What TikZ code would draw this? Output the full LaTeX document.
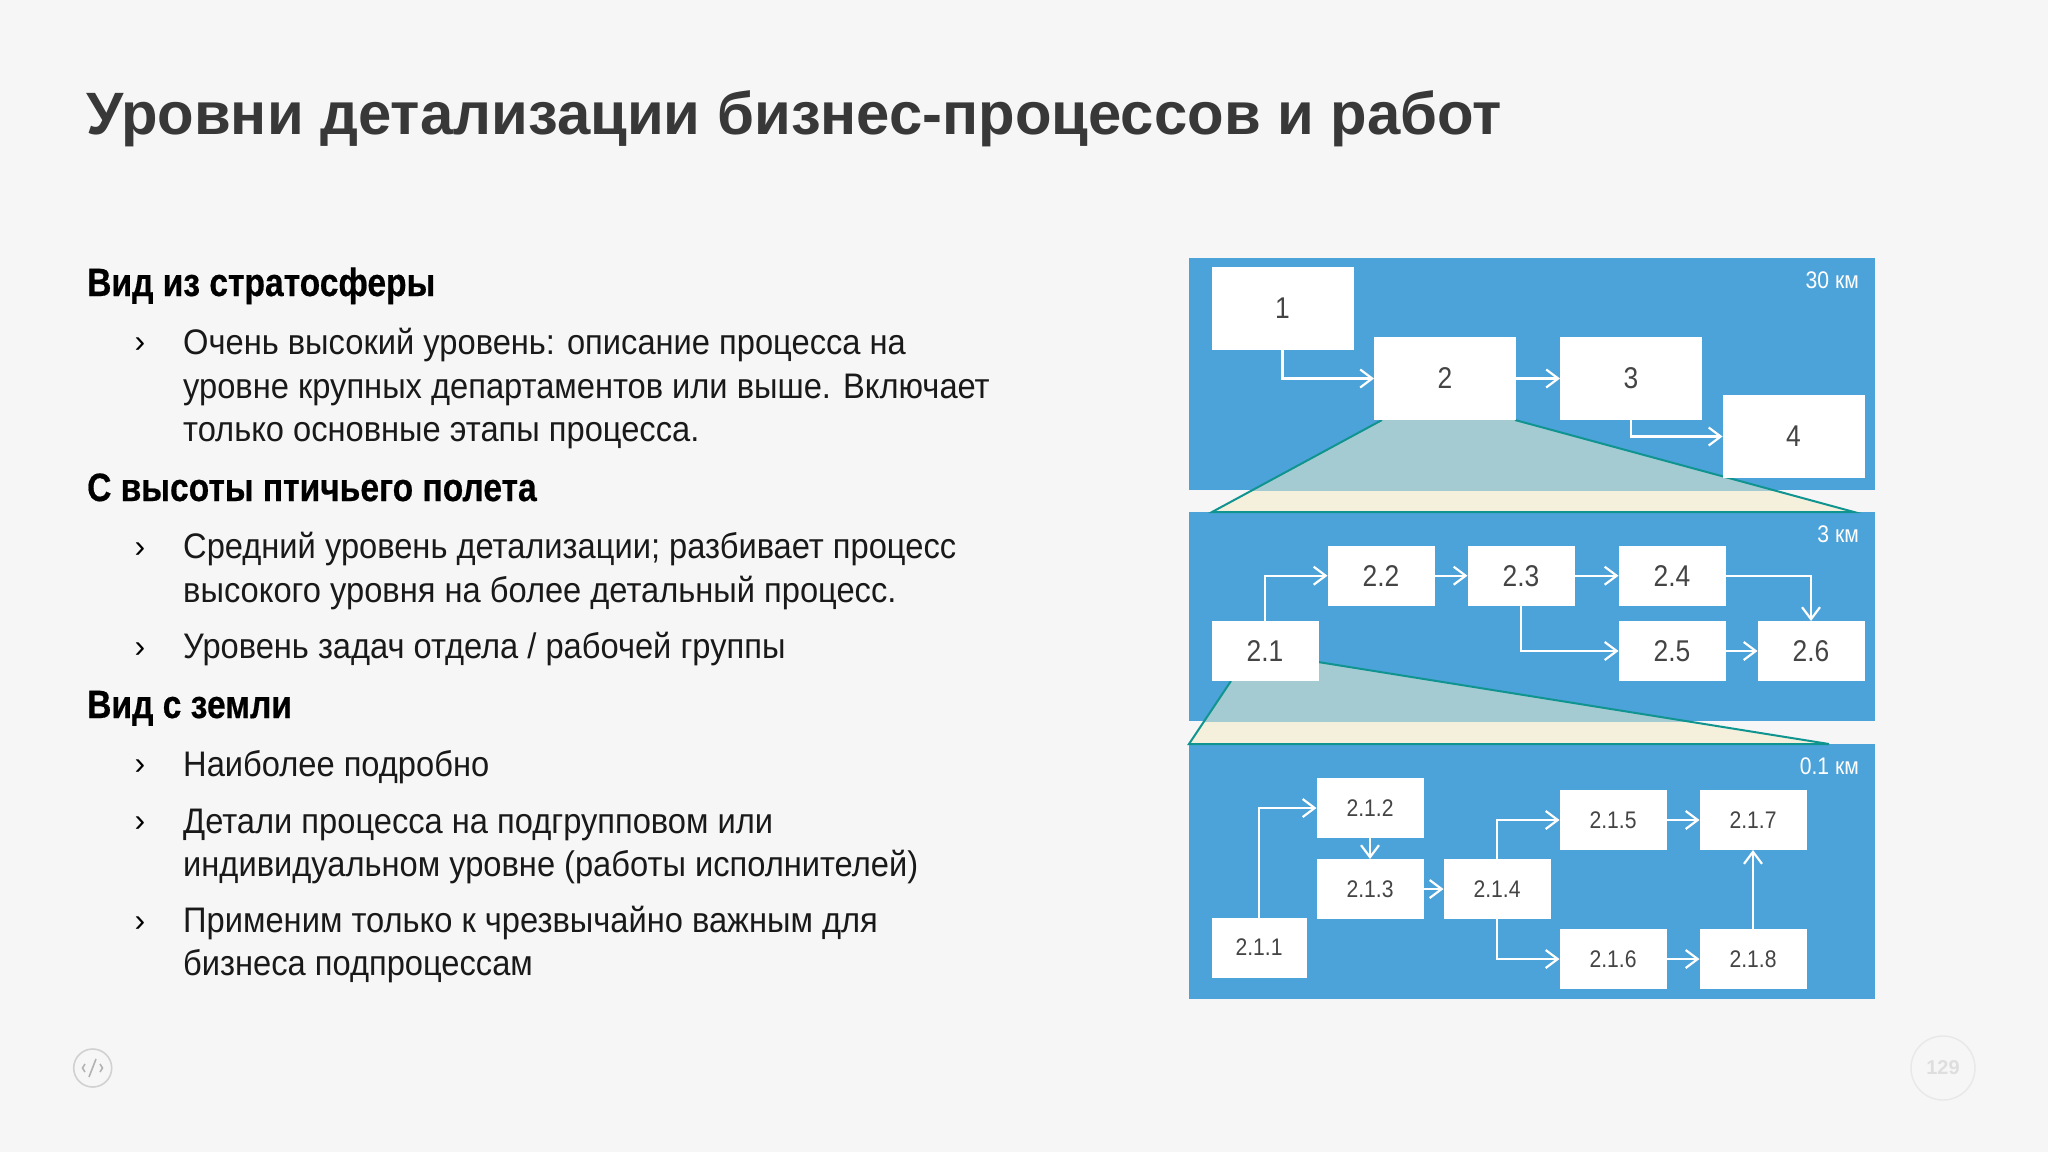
\documentclass[tikz,border=0pt]{standalone}
\usepackage{fontspec}
\setmainfont{Liberation Sans}
\newfontfamily\narrowfont[FakeStretch=0.92]{Liberation Sans}
\newfontfamily\headfont[FakeStretch=0.85,BoldFeatures={FakeBold=0.5}]{Liberation Sans}
\newfontfamily\thinfont[FakeStretch=0.88]{Liberation Sans}
\usetikzlibrary{arrows.meta}
\usetikzlibrary{positioning}
\definecolor{slidebg}{HTML}{F6F6F6}
\definecolor{panelblue}{HTML}{4CA3D9}
\definecolor{zoomteal}{HTML}{0F9490}
\definecolor{zoomcream}{HTML}{F5F0DC}
\definecolor{zoomglass}{HTML}{A5CBD2}
\definecolor{boxtext}{HTML}{444444}
\tikzset{
	>={Straight Barb[length=12pt,width=18pt,line width=2.2pt]},
	panel/.style={fill=panelblue},
	bigbox/.style={fill=white, inner sep=0, outer sep=0, minimum width=142pt, minimum height=83pt, text=boxtext, font=\thinfont\fontsize{30}{30}\selectfont},
	midbox/.style={fill=white, inner sep=0, outer sep=0, minimum width=107pt, minimum height=60pt, text=boxtext, font=\thinfont\fontsize{30}{30}\selectfont},
	smallbox/.style={midbox, font=\thinfont\fontsize{24}{24}\selectfont},
	flow/.style={draw=white, line width=2.2pt, ->},
	zoomedge/.style={draw=zoomteal, line width=2pt},
	kmlabel/.style={anchor=base east, inner sep=0, text=white, font=\thinfont\fontsize{24}{24}\selectfont},
	heading/.style={anchor=base west, inner sep=0, text=black, font=\headfont\bfseries\fontsize{39.5}{39.5}\selectfont},
	item/.style={anchor=base west, inner sep=0, align=left, text=black!90, font=\narrowfont\fontsize{35.5}{43.6}\selectfont},
	chevron/.style={anchor=base, inner sep=0, text=black, font=\fontsize{32}{32}\selectfont},
}
\begin{document}
\begin{tikzpicture}[x=1pt, y=-1pt]
	\useasboundingbox[fill=slidebg] (0,0) rectangle (2048,1152);
	\node[anchor=base west, inner sep=0, text=black!78, font=\bfseries\fontsize{59.8}{59.8}\selectfont] (title) at (86,134) {Уровни детализации бизнес-процессов и работ};
	% left column
	\node[heading] (headone) at (87,296) {Вид из стратосферы};
	\node[chevron] (markone) at (140,352) {›};
	\node[item] (itemone) at (183,441.7) {Очень высокий уровень: описание процесса на\\уровне крупных департаментов или выше. Включает\\только основные этапы процесса.};
	\node[heading] (headtwo) at (87,501) {С высоты птичьего полета};
	\node[chevron] (marktwo) at (140,557) {›};
	\node[item] (itemtwo) at (183,602.5) {Средний уровень детализации; разбивает процесс\\высокого уровня на более детальный процесс.};
	\node[chevron] (markthree) at (140,657) {›};
	\node[item] (itemthree) at (183,658.5) {Уровень задач отдела / рабочей группы};
	\node[heading] (headthree) at (87,718) {Вид с земли};
	\node[chevron] (markfour) at (140,774) {›};
	\node[item] (itemfour) at (183,776) {Наиболее подробно};
	\node[chevron] (markfive) at (140,831) {›};
	\node[item] (itemfive) at (183,876.6) {Детали процесса на подгрупповом или\\индивидуальном уровне (работы исполнителей)};
	\node[chevron] (marksix) at (140,931) {›};
	\node[item] (itemsix) at (183,975.9) {Применим только к чрезвычайно важным для\\бизнеса подпроцессам};
	% panels
	\fill[panel] (1189,258) rectangle (1875,490);
	\fill[panel] (1189,512) rectangle (1875,721);
	\fill[panel] (1189,744) rectangle (1875,999);
	% first zoom
	\fill[zoomcream] (1382,420)--(1515,420)--(1854,512)--(1212,512)--cycle;
	\begin{scope}
		\clip (1189,258) rectangle (1875,490);
		\fill[zoomglass] (1382,420)--(1515,420)--(1854,512)--(1212,512)--cycle;
	\end{scope}
	\draw[zoomedge] (1382,420)--(1212,512)--(1854,512)--(1515,420);
	% second zoom
	\fill[zoomcream] (1231,681)--(1318,662)--(1829,744)--(1189,744)--cycle;
	\begin{scope}
		\clip (1189,512) rectangle (1875,721);
		\fill[zoomglass] (1231,681)--(1318,662)--(1829,744)--(1189,744)--cycle;
	\end{scope}
	\draw[zoomedge] (1231,681)--(1189,744)--(1829,744)--(1318,662);
	% top level
	\node[kmlabel] (kmone) at (1859,288) {30 км};
	\node[bigbox] (one) at (1282.5,308.5) {1};
	\node[bigbox] (two) at (1445,378.5) {2};
	\node[bigbox] (three) at (1631,378.5) {3};
	\node[bigbox] (four) at (1793.5,436.5) {4};
	\draw[flow] (one.south) |- (two.west);
	\draw[flow] (two.east) -- (three.west);
	\draw[flow] (three.south) |- (four.west);
	% middle level
	\node[kmlabel] (kmtwo) at (1859,542) {3 км};
	\node[midbox] (twoone) at (1265,651) {2.1};
	\node[midbox] (twotwo) at (1381,575.7) {2.2};
	\node[midbox] (twothree) at (1521,575.7) {2.3};
	\node[midbox] (twofour) at (1672,575.7) {2.4};
	\node[midbox] (twofive) at (1672,651) {2.5};
	\node[midbox] (twosix) at (1811,651) {2.6};
	\draw[flow] (twoone.north) |- (twotwo.west);
	\draw[flow] (twotwo.east) -- (twothree.west);
	\draw[flow] (twothree.east) -- (twofour.west);
	\draw[flow] (twofour.east) -| (twosix.north);
	\draw[flow] (twothree.south) |- (twofive.west);
	\draw[flow] (twofive.east) -- (twosix.west);
	% bottom level
	\node[kmlabel] (kmthree) at (1859,774) {0.1 км};
	\node[smallbox, minimum width=95pt] (subone) at (1259,947.5) {2.1.1};
	\node[smallbox] (subtwo) at (1370,808) {2.1.2};
	\node[smallbox] (subthree) at (1370,889) {2.1.3};
	\node[smallbox] (subfour) at (1497,889) {2.1.4};
	\node[smallbox] (subfive) at (1613,820) {2.1.5};
	\node[smallbox] (subsix) at (1613,959) {2.1.6};
	\node[smallbox] (subseven) at (1753,820) {2.1.7};
	\node[smallbox] (subeight) at (1753,959) {2.1.8};
	\draw[flow] (subone.north) |- (subtwo.west);
	\draw[flow] (subtwo.south) -- (subthree.north);
	\draw[flow] (subthree.east) -- (subfour.west);
	\draw[flow] (subfour.north) |- (subfive.west);
	\draw[flow] (subfour.south) |- (subsix.west);
	\draw[flow] (subfive.east) -- (subseven.west);
	\draw[flow] (subsix.east) -- (subeight.west);
	\draw[flow] (subeight.north) -- (subseven.south);
	% footer
	\node[circle, draw=black!18, line width=1.6pt, minimum size=38pt, inner sep=0] (codeicon) at (92.7,1068) {};
	\draw[black!30, line width=1.6pt] (89,1077)--(96,1059) (85,1064)--(82.5,1068)--(85,1072) (100,1064)--(102.5,1068)--(100,1072);
	\node[circle, draw=black!9, line width=1.4pt, minimum size=64pt, inner sep=0, text=black!13, font=\bfseries\fontsize{20}{20}\selectfont] (pagenum) at (1943,1068) {129};
\end{tikzpicture}
\end{document}
